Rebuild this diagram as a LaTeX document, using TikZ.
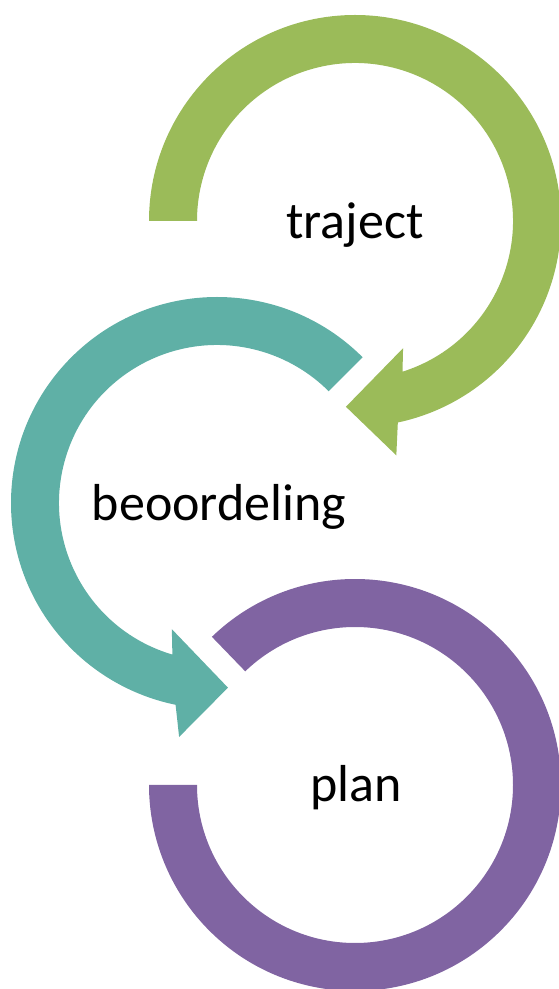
\documentclass[tikz,border=0pt]{standalone}
\usepackage{fontspec}
\setmainfont{Carlito}
\usetikzlibrary{positioning}

\definecolor{trajectgreen}{RGB}{155,187,89}
\definecolor{beoordelingteal}{RGB}{95,176,166}
\definecolor{planpurple}{RGB}{128,100,162}

\begin{document}
\begin{tikzpicture}[x=1pt, y=1pt, node distance =282pt and 138pt, on grid]
      \tikzstyle{word}=[anchor=base, inner sep=0pt, text=black, font=\fontsize{52}{62}\selectfont]
      \useasboundingbox (0,0) rectangle (559,989);
      \coordinate (G) at (355,768);
      \coordinate[below left = of G] (T);
      \coordinate[below right = of T] (P);
      % traject: clockwise, head at the bottom
      \begin{scope}[shift={(G)}]
        \fill[trajectgreen] (180:206) arc[start angle=180, end angle=-78, radius=206]
          -- (-80:238) -- (-92.8:186) -- (-69.3:136) -- (-72.5:158)
          arc[start angle=-72.5, end angle=180, radius=158] -- cycle;
      \end{scope}
      % beoordeling: counter clockwise, head at the bottom
      \begin{scope}[shift={(T)}]
        \fill[beoordelingteal] (45:206) arc[start angle=45, end angle=258.4, radius=206]
          -- (260.8:237) -- (273.4:185) -- (250.3:134) -- (253.6:158)
          arc[start angle=253.6, end angle=45, radius=158] -- cycle;
      \end{scope}
      % plan: clockwise, no head
      \begin{scope}[shift={(P)}]
        \fill[planpurple] (134:206) arc[start angle=134, end angle=-180, radius=206]
          -- (180:158) arc[start angle=-180, end angle=134, radius=158] -- cycle;
      \end{scope}
      \node[word] (traject) at ([yshift=-18pt]G) {traject};
      \node[word] (beoordeling) at ([xshift=2pt, yshift=-18pt]T) {beoordeling};
      \node[word] (plan) at ([xshift=1pt, yshift=-17pt]P) {plan};
    \end{tikzpicture}
\end{document}
